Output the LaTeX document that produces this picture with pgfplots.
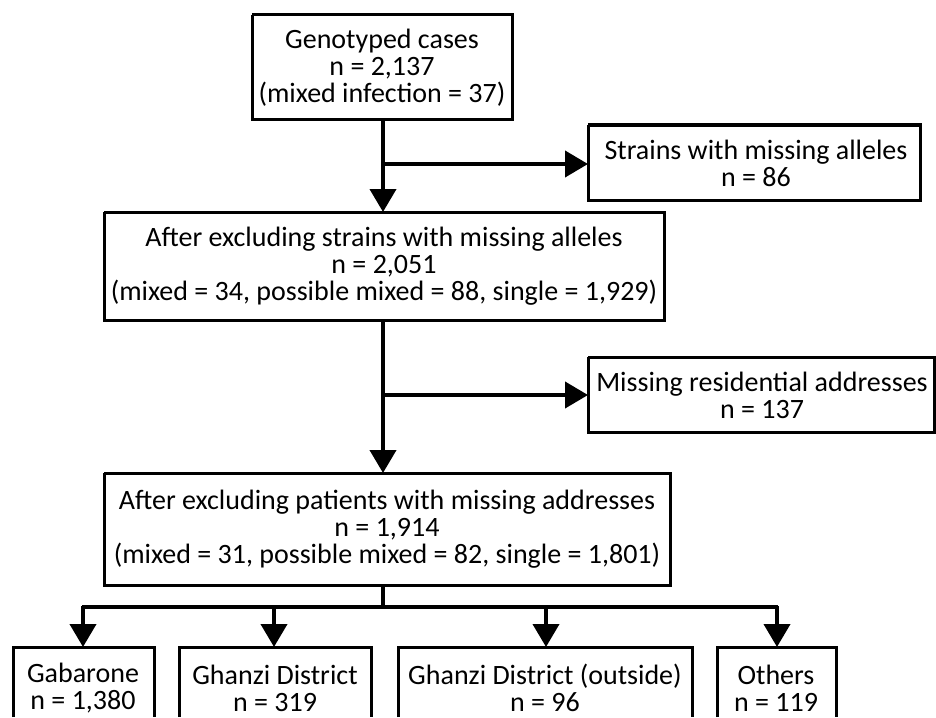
\documentclass[border=0pt]{standalone}
\usepackage{fontspec}
\setmainfont{Carlito}
\usepackage{pgfplots}
\pgfplotsset{compat=1.18}
\usetikzlibrary{arrows.meta}
\begin{document}
\begin{tikzpicture}
\begin{axis}[
  name=main,
  width=468pt, height=358.5pt, scale only axis,
  xmin=0, xmax=936, ymin=0, ymax=717, y dir=reverse,
  hide axis, clip=true,
  every axis plot/.append style={black, line join=miter},
]
% boxes
\addplot[line width=1.5pt] coordinates {(252,15) (512,15) (512,120) (252,120) (252,15)};
\addplot[line width=1.5pt] coordinates {(588,125) (920,125) (920,200) (588,200) (588,125)};
\addplot[line width=1.5pt] coordinates {(104,212) (664,212) (664,320) (104,320) (104,212)};
\addplot[line width=1.5pt] coordinates {(588,357) (934,357) (934,432) (588,432) (588,357)};
\addplot[line width=1.5pt] coordinates {(104,473) (670,473) (670,585) (104,585) (104,473)};
\addplot[line width=1.5pt] coordinates {(13,717) (13,647) (154,647) (154,717)};
\addplot[line width=1.5pt] coordinates {(179,717) (179,647) (371,647) (371,717)};
\addplot[line width=1.5pt] coordinates {(398,717) (398,647) (692,647) (692,717)};
\addplot[line width=1.5pt] coordinates {(717,717) (717,647) (836,647) (836,717)};
% arrows
\addplot[line width=2pt, -{Triangle[length=11.5pt,width=13pt]}] coordinates {(383,120) (383,212)};
\addplot[line width=2pt, -{Triangle[length=11.5pt,width=13pt]}] coordinates {(383,164) (588,164)};
\addplot[line width=2pt, -{Triangle[length=11.5pt,width=13pt]}] coordinates {(383,320) (383,473)};
\addplot[line width=2pt, -{Triangle[length=11.5pt,width=13pt]}] coordinates {(383,395) (588,395)};
\addplot[line width=2pt] coordinates {(383,585) (383,607)};
\addplot[line width=2pt] coordinates {(82,607) (778,607)};
\addplot[line width=2pt, -{Triangle[length=11.5pt,width=13pt]}] coordinates {(83,606) (83,647)};
\addplot[line width=2pt, -{Triangle[length=11.5pt,width=13pt]}] coordinates {(274,606) (274,647)};
\addplot[line width=2pt, -{Triangle[length=11.5pt,width=13pt]}] coordinates {(546,606) (546,647)};
\addplot[line width=2pt, -{Triangle[length=11.5pt,width=13pt]}] coordinates {(777,606) (777,647)};
% texts
\tikzset{t/.style={align=center, font=\fontsize{14}{13.5}\selectfont, inner sep=0pt}}
\node[t] at (axis cs:382,68) {Genotyped cases\\n = 2,137\\(mixed infection = 37)};
\node[t] at (axis cs:756,163) {Strains with missing alleles\\n = 86};
\node[t] at (axis cs:384,266) {After excluding strains with missing alleles\\n = 2,051\\(mixed = 34, possible mixed = 88, single = 1,929)};
\node[t] at (axis cs:762,395) {Missing residential addresses\\n = 137};
\node[t] at (axis cs:387,529) {After excluding patients with missing addresses\\n = 1,914\\(mixed = 31, possible mixed = 82, single = 1,801)};
\node[t] at (axis cs:83,688) {Gabarone\\n = 1,380};
\node[t] at (axis cs:275,688) {Ghanzi District\\n = 319};
\node[t] at (axis cs:545,688) {Ghanzi District (outside)\\n = 96};
\node[t] at (axis cs:776,688) {Others\\n = 119};
\end{axis}
\pgfresetboundingbox
\path (main.south west) rectangle (main.north east);
\end{tikzpicture}
\end{document}
